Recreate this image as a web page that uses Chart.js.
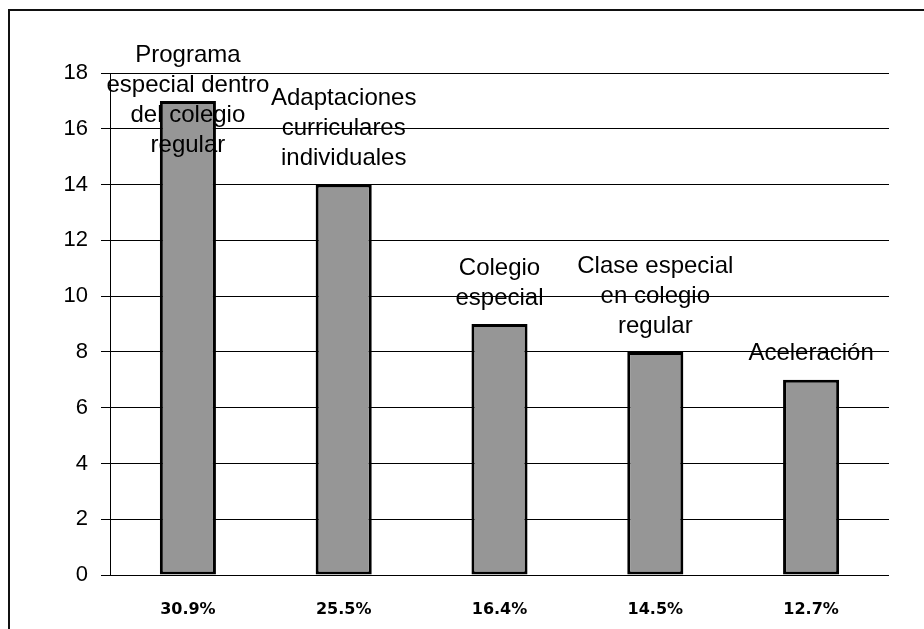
<!DOCTYPE html>
<html>
<head>
<meta charset="utf-8">
<script src="https://cdn.jsdelivr.net/npm/chart.js@4/dist/chart.umd.min.js"></script>
<style>
html,body{margin:0;padding:0;background:#fff;}
#wrap{width:924px;height:629px;position:relative;}
</style>
</head>
<body>
<div id="wrap"><canvas id="chart" width="924" height="629"></canvas></div>
<script>
// data
const categories=['30.9%','25.5%','16.4%','14.5%','12.7%'];
const counts=[17,14,9,8,7];
const barNames=[
  ['Programa','especial dentro','del colegio','regular'],
  ['Adaptaciones','curriculares','individuales'],
  ['Colegio','especial'],
  ['Clase especial','en colegio','regular'],
  ['Aceleración']
];
const yTicks=[0,2,4,6,8,10,12,14,16,18];

// outer frame round the whole chart, plus the value axis line
const framePlugin={
  id:'frame',
  beforeDraw(chart){
    const c=chart.ctx;
    c.save();
    c.fillStyle='#fff';
    c.fillRect(0,0,chart.width,chart.height);
    c.strokeStyle='#111';
    c.lineWidth=2;
    c.strokeRect(9,10,1000,1000);
    c.restore();
  },
  afterDraw(chart){
    const y=chart.scales.y,c=chart.ctx;
    const x0=Math.round(chart.chartArea.left);
    const top=y.getPixelForValue(yTicks[yTicks.length-1]);
    c.save();
    c.fillStyle='#000';
    c.fillRect(x0,top,1,y.getPixelForValue(0)-top+1);
    c.restore();
  }
};

// names above the bars, kept inside the frame
const namePlugin={
  id:'names',
  afterDatasetsDraw(chart){
    const c=chart.ctx;
    const meta=chart.getDatasetMeta(0);
    const lh=30;
    c.save();
    c.font='24px "Liberation Sans", Arial, sans-serif';
    c.fillStyle='#000';
    c.textAlign='center';
    c.textBaseline='middle';
    meta.data.forEach((bar,i)=>{
      const lines=barNames[i];
      let first=bar.y-26-(lines.length-1)*lh;
      if(first<55) first=55;
      lines.forEach((t,j)=>c.fillText(t,bar.x,first+j*lh));
    });
    c.restore();
  }
};

new Chart(document.getElementById('chart'),{
  type:'bar',
  data:{
    labels:categories,
    datasets:[{
      data:counts,
      backgroundColor:'#969696',
      borderColor:'#000',
      borderWidth:3,
      borderSkipped:false,
      categoryPercentage:1,
      barPercentage:0.36
    }]
  },
  options:{
    responsive:false,
    animation:false,
    layout:{padding:{left:0,top:73,right:35,bottom:0}},
    plugins:{legend:{display:false},tooltip:{enabled:false}},
    scales:{
      x:{
        grid:{display:false,drawTicks:false},
        border:{display:false},
        ticks:{
          padding:25,
          color:'#000',
          font:{family:'"DejaVu Sans", Verdana, sans-serif',size:16,weight:'bold'}
        },
        afterFit(a){a.height=54;}
      },
      y:{
        min:0,max:18,
        afterBuildTicks(a){a.ticks=yTicks.map(v=>({value:v}));},
        grid:{color:'#000',lineWidth:1,tickLength:9,drawTicks:true},
        border:{display:true,color:'#000',width:1},
        ticks:{
          padding:13,
          color:'#000',
          font:{family:'"Liberation Sans", Arial, sans-serif',size:22}
        },
        afterFit(a){a.width=110;}
      }
    }
  },
  plugins:[framePlugin,namePlugin]
});
</script>
</body>
</html>
